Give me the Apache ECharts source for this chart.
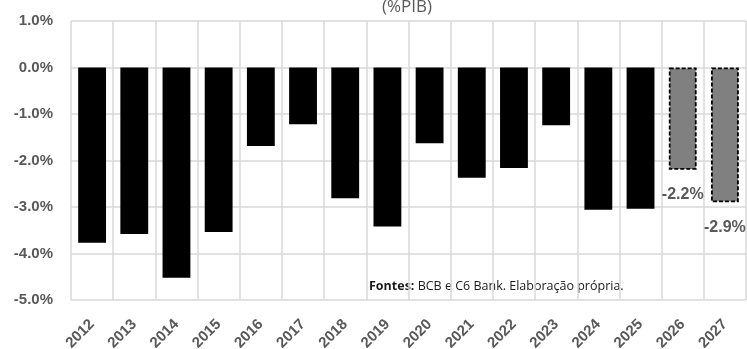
<!DOCTYPE html>
<html>
<head>
<meta charset="utf-8">
<script src="https://cdn.jsdelivr.net/npm/echarts@6/dist/echarts.min.js"></script>
<style>
  html, body { margin: 0; padding: 0; background: #fff; }
  #chart { width: 747px; height: 349px; }
</style>
</head>
<body>
<div id="chart"></div>
<script>
// Resultado primário (%PIB): realizado e projeções
const years = ['2012','2013','2014','2015','2016','2017','2018','2019','2020','2021','2022','2023','2024','2025','2026','2027'];
const realized = [-3.77, -3.58, -4.52, -3.54, -1.69, -1.22, -2.81, -3.42, -1.63, -2.37, -2.16, -1.24, -3.06, -3.04, null, null];
const projected = [null, null, null, null, null, null, null, null, null, null, null, null, null, null, -2.2, -2.9];
const yTicks = { min: -5, max: 1, step: 1 };

const grey = '#595959';
const labelFont = 'Liberation Sans';

const chart = echarts.init(document.getElementById('chart'), null, { renderer: 'canvas' });

chart.setOption({
  animation: false,
  backgroundColor: '#fff',
  title: {
    text: '(%PIB)',
    left: 402,
    textAlign: 'center',
    top: -6,
    textStyle: { fontFamily: 'Open Sans', fontWeight: 'normal', fontSize: 17, color: grey }
  },
  grid: { left: 71, right: 1, top: 21, bottom: 49, containLabel: false, outerBoundsMode: 'none' },
  xAxis: {
    type: 'category',
    data: years,
    axisLine: { show: false },
    axisTick: { show: false },
    splitLine: { show: true, lineStyle: { color: '#d9d9d9', width: 1.5 } },
    axisLabel: {
      rotate: 45,
      margin: 22,
      interval: 0,
      color: grey,
      fontFamily: labelFont,
      fontWeight: 'bold',
      fontSize: 15
    }
  },
  yAxis: {
    type: 'value',
    min: yTicks.min,
    max: yTicks.max,
    interval: yTicks.step,
    axisLine: { show: false },
    axisTick: { show: false },
    splitLine: { show: true, lineStyle: { color: '#d9d9d9', width: 1.5 } },
    axisLabel: {
      margin: 18,
      color: grey,
      fontFamily: labelFont,
      fontWeight: 'bold',
      fontSize: 15,
      formatter: v => v.toFixed(1) + '%'
    }
  },
  series: [
    {
      name: 'Realizado',
      type: 'bar',
      data: realized,
      barCategoryGap: '34%',
      barGap: '-100%',
      itemStyle: { color: '#000' }
    },
    {
      name: 'Projeção',
      type: 'bar',
      data: projected,
      barCategoryGap: '34%',
      barGap: '-100%',
      itemStyle: {
        color: '#808080',
        borderColor: '#000',
        borderWidth: 1.8,
        borderType: [4, 2]
      },
      label: {
        show: true,
        position: 'bottom',
        distance: 17,
        color: grey,
        fontFamily: labelFont,
        fontWeight: 'bold',
        fontSize: 16,
        formatter: p => p.value.toFixed(1) + '%'
      }
    }
  ],
  graphic: [
    {
      type: 'text',
      left: 369,
      top: 280,
      style: {
        text: '{b|Fontes:} BCB e C6 Bank. Elaboração própria.',
        fontFamily: 'Open Sans',
        fontSize: 12.5,
        fill: '#1a1a1a',
        rich: {
          b: { fontFamily: 'Open Sans', fontSize: 12.5, fontWeight: 'bold', fill: '#1a1a1a' }
        }
      }
    }
  ]
});
</script>
</body>
</html>
